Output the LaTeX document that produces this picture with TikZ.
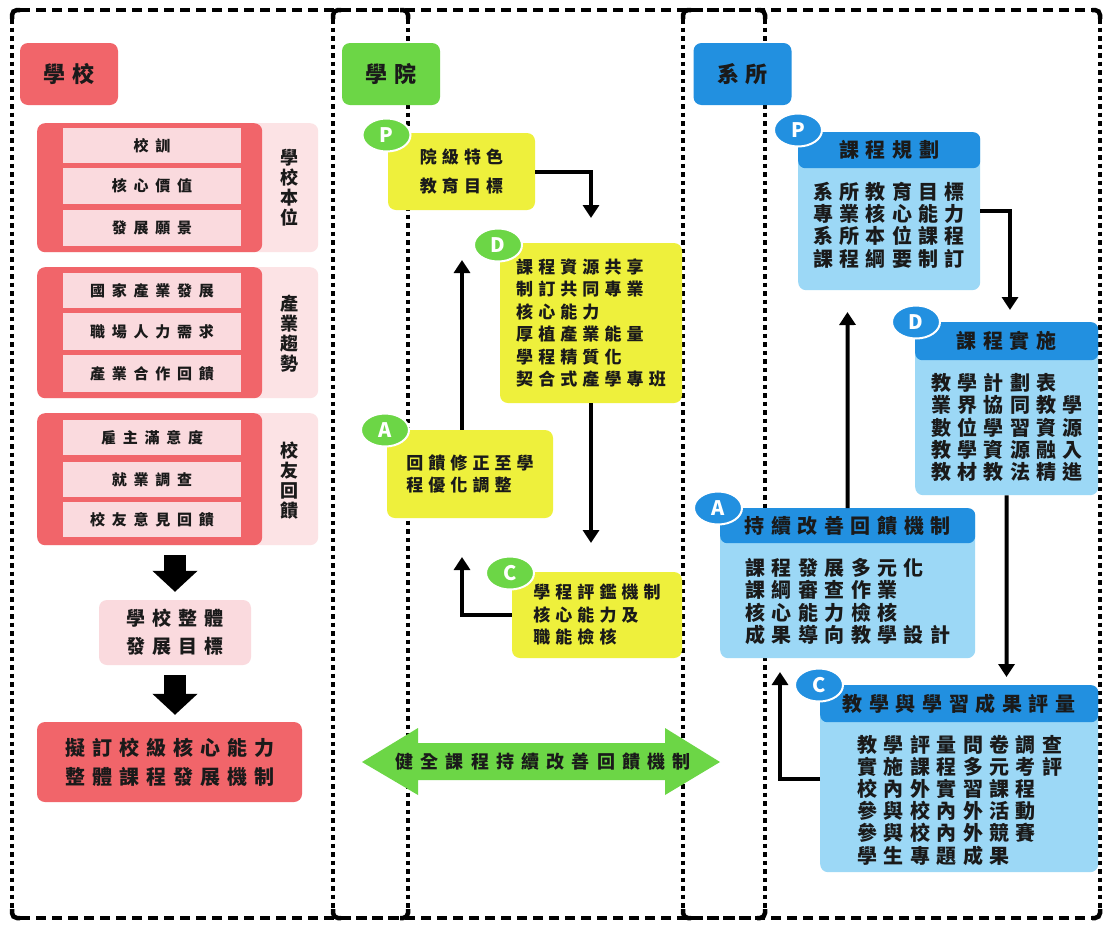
\documentclass[tikz,border=0pt]{standalone}
\usepackage{fontspec}
\newfontfamily\cjk{Noto Sans CJK TC}
\usetikzlibrary{arrows.meta,shapes.geometric}
\newcommand\ft[3]{\cjk\bfseries\fontsize{#1}{#2}\selectfont\addfontfeature{LetterSpace=#3}}
\definecolor{schred}{HTML}{F1656A}
\definecolor{schlight}{HTML}{FCE3E5}
\definecolor{schbar}{HTML}{FADADE}
\definecolor{collgreen}{HTML}{6CD646}
\definecolor{ylw}{HTML}{EEF03C}
\definecolor{deptblue}{HTML}{2290E0}
\definecolor{ltblue}{HTML}{9CD8F6}
\definecolor{txt}{HTML}{1A1A1A}
\newcommand\myframe[4]{%
 \draw[hdash] (#1+8,#2) -- (#3-8,#2);
 \draw[hdash] (#1+8,#4) -- (#3-8,#4);
 \draw[vdot] (#1,#2+9) -- (#1,#4-9);
 \draw[vdot] (#3,#2+9) -- (#3,#4-9);
 \draw[frc] (#1,#2+9) -- (#1,#2) -- (#1+8,#2);
 \draw[frc] (#3,#2+9) -- (#3,#2) -- (#3-8,#2);
 \draw[frc] (#1,#4-9) -- (#1,#4) -- (#1+8,#4);
 \draw[frc] (#3,#4-9) -- (#3,#4) -- (#3-8,#4);
}
\begin{document}
\begin{tikzpicture}[x=1pt,y=-1pt,
 hdash/.style={line width=4.5pt, dash pattern=on 10pt off 6pt},
 vdot/.style={line width=4.5pt, dash pattern=on 4.5pt off 4pt},
 frc/.style={line width=4.5pt, rounded corners=5pt},
 hdrbox/.style={rounded corners=8pt, inner sep=0pt, text=txt, font=\ft{22}{26}{30}, minimum width=98pt, minimum height=62pt},
 box/.style={rounded corners=8pt, inner sep=0pt, text=txt},
 bar/.style={fill=schbar, inner sep=0pt, text=txt, font=\ft{15}{18}{45}, minimum width=178pt},
 vlab/.style={inner sep=0pt, align=center, text=txt, font=\ft{18}{20}{0}},
 ybox/.style={rounded corners=8pt, fill=ylw, inner sep=0pt, text=txt, align=left, font=\ft{17}{22.5}{30}},
 bbody/.style={rounded corners=8pt, fill=ltblue, inner sep=0pt},
 bhead/.style={rounded corners=7pt, fill=deptblue, inner sep=0pt, text=txt, font=\ft{20}{24}{33}},
 btext/.style={inner sep=0pt, align=left, text=txt, font=\ft{20}{22.2}{32}},
 circ/.style={ellipse, draw=white, line width=2pt, inner sep=0pt, minimum width=48pt, minimum height=33pt, text=white, font=\cjk\bfseries\fontsize{20}{20}\selectfont},
 conn/.style={line width=4pt, -{Triangle[width=16pt,length=13pt]}},
 blk/.style={line width=22pt, -{Triangle[width=44pt,length=21pt]}}
]
\useasboundingbox (0,0) rectangle (1105,924);
\fill[white] (0,0) rectangle (1105,924);
% frames
\myframe{12}{10}{408}{918}
\myframe{333}{10}{765}{918}
\myframe{683}{10}{1100}{918}

% ---------------- school column
\node[hdrbox, fill=schred] (hS) at (69,74) {學校};

\node[box, fill=schlight, minimum width=281pt, minimum height=129pt, anchor=north west] (g1) at (37,123) {};
\node[box, fill=schred, minimum width=225pt, minimum height=129pt, anchor=north west] (g1r) at (37,123) {};
\node[bar, minimum height=35pt] (b11) at (152,145.5) {校訓};
\node[bar, minimum height=36pt] (b12) at (152,186) {核心價值};
\node[bar, minimum height=36pt] (b13) at (152,228) {發展願景};
\node[vlab] (v1) at (289,187.5) {學\\校\\本\\位};

\node[box, fill=schlight, minimum width=281pt, minimum height=131pt, anchor=north west] (g2) at (37,267) {};
\node[box, fill=schred, minimum width=225pt, minimum height=131pt, anchor=north west] (g2r) at (37,267) {};
\node[bar, minimum height=35pt] (b21) at (152,290.5) {國家產業發展};
\node[bar, minimum height=37pt] (b22) at (152,331.5) {職場人力需求};
\node[bar, minimum height=37pt] (b23) at (152,373.5) {產業合作回饋};
\node[vlab] (v2) at (289,334) {產\\業\\趨\\勢};

\node[box, fill=schlight, minimum width=281pt, minimum height=132pt, anchor=north west] (g3) at (37,413) {};
\node[box, fill=schred, minimum width=225pt, minimum height=132pt, anchor=north west] (g3r) at (37,413) {};
\node[bar, minimum height=35pt] (b31) at (152,437.5) {雇主滿意度};
\node[bar, minimum height=35pt] (b32) at (152,479.5) {就業調查};
\node[bar, minimum height=35pt] (b33) at (152,519.5) {校友意見回饋};
\node[vlab] (v3) at (289,481) {校\\友\\回\\饋};

\node[box, fill=schbar, minimum width=152pt, minimum height=65pt, align=center, font=\ft{19}{28}{36}] (gsum) at (175,632.5) {學校整體\\發展目標};
\node[box, fill=schred, minimum width=265pt, minimum height=80pt, align=center, font=\ft{20}{29}{35}] (gfin) at (169.5,762) {擬訂校級核心能力\\整體課程發展機制};

\draw[blk, shorten <=10pt, shorten >=8pt] (gsum.north |- g3.south) -- (gsum.north);
\draw[blk, shorten <=10pt, shorten >=7pt] (gsum.south) -- (gsum.south |- gfin.north);

% ---------------- college column
\node[hdrbox, fill=collgreen] (hC) at (391,74) {學院};

\node[ybox, minimum width=147pt, minimum height=77pt, font=\ft{17}{29}{30}] (mP) at (461.5,171.5) {院級特色\\教育目標};
\node[ybox, minimum width=182pt, minimum height=160pt] (mD) at (591,323) {課程資源共享\\制訂共同專業\\核心能力\\厚植產業能量\\學程精質化\\契合式產學專班};
\node[ybox, minimum width=166pt, minimum height=88pt, font=\ft{17}{22}{30}] (mA) at (470,474) {回饋修正至學\\程優化調整};
\node[ybox, minimum width=170pt, minimum height=86pt] (mC) at (597,615) {學程評鑑機制\\核心能力及\\職能檢核};

\node[circ, fill=collgreen] (cmP) at (386.5,135) {P};
\node[circ, fill=collgreen] (cmD) at (498,245) {D};
\node[circ, fill=collgreen] (cmA) at (385,430) {A};
\node[circ, fill=collgreen] (cmC) at (510,573) {C};

\coordinate (mPD) at (591,218);
\draw[conn] (mP.east) -| (mPD);
\coordinate (mDC) at (591,543);
\draw[conn] (mD.south) -- (mDC);
\coordinate (mCA) at (462,557);
\draw[conn] (mC.west) -| (mCA);
\coordinate (mAD) at (462,260);
\draw[conn] (mA.north -| mAD) -- (mAD);

\fill[collgreen] (362,762) -- (418,728) -- (418,743) -- (665,743) -- (665,728) -- (720,762) -- (665,795) -- (665,780) -- (418,780) -- (418,795) -- cycle;
\node[inner sep=0pt, text=txt, font=\ft{18}{20}{40}] (gtxt) at (543,762) {健全課程持續改善回饋機制};

% ---------------- department column
\node[hdrbox, fill=deptblue] (hD) at (742.5,74) {系所};

\node[bbody, minimum width=182pt, minimum height=158pt, anchor=north west] (rP) at (798,132) {};
\node[bhead, minimum width=182pt, minimum height=36pt, anchor=north] (rPh) at (rP.north) {課程規劃};
\node[btext] (rPt) at (889,225) {系所教育目標\\專業核心能力\\系所本位課程\\課程綱要制訂};

\node[bbody, minimum width=183pt, minimum height=173pt, anchor=north west] (rD) at (915,322) {};
\node[bhead, minimum width=183pt, minimum height=38pt, anchor=north] (rDh) at (rD.north) {課程實施};
\node[btext] (rDt) at (1007,427.5) {教學計劃表\\業界協同教學\\數位學習資源\\教學資源融入\\教材教法精進};

\node[bbody, minimum width=255pt, minimum height=150pt, anchor=north west] (rA) at (720,508) {};
\node[bhead, minimum width=255pt, minimum height=35pt, anchor=north] (rAh) at (rA.north) {持續改善回饋機制};
\node[btext] (rAt) at (848,601.5) {課程發展多元化\\課綱審查作業\\核心能力檢核\\成果導向教學設計};

\node[bbody, minimum width=278pt, minimum height=187pt, anchor=north west] (rC) at (820,685) {};
\node[bhead, minimum width=278pt, minimum height=37pt, anchor=north] (rCh) at (rC.north) {教學與學習成果評量};
\node[btext] (rCt) at (960,800) {教學評量問卷調查\\實施課程多元考評\\校內外實習課程\\參與校內外活動\\參與校內外競賽\\學生專題成果};

\node[circ, fill=deptblue] (crP) at (798,130) {P};
\node[circ, fill=deptblue] (crD) at (916,322) {D};
\node[circ, fill=deptblue] (crA) at (718,508) {A};
\node[circ, fill=deptblue] (crC) at (819,685) {C};

\coordinate (rPD) at (1010,310);
\draw[conn] (rP.east) -| (rPD);
\coordinate (rDC) at (1006.5,677);
\draw[conn] (rD.south) -- (rDC);
\coordinate (rCA) at (780,672);
\draw[conn] (rC.west) -| (rCA);
\coordinate (rAP) at (847.5,312);
\draw[conn] (rA.north) -- (rAP);
\end{tikzpicture}
\end{document}
